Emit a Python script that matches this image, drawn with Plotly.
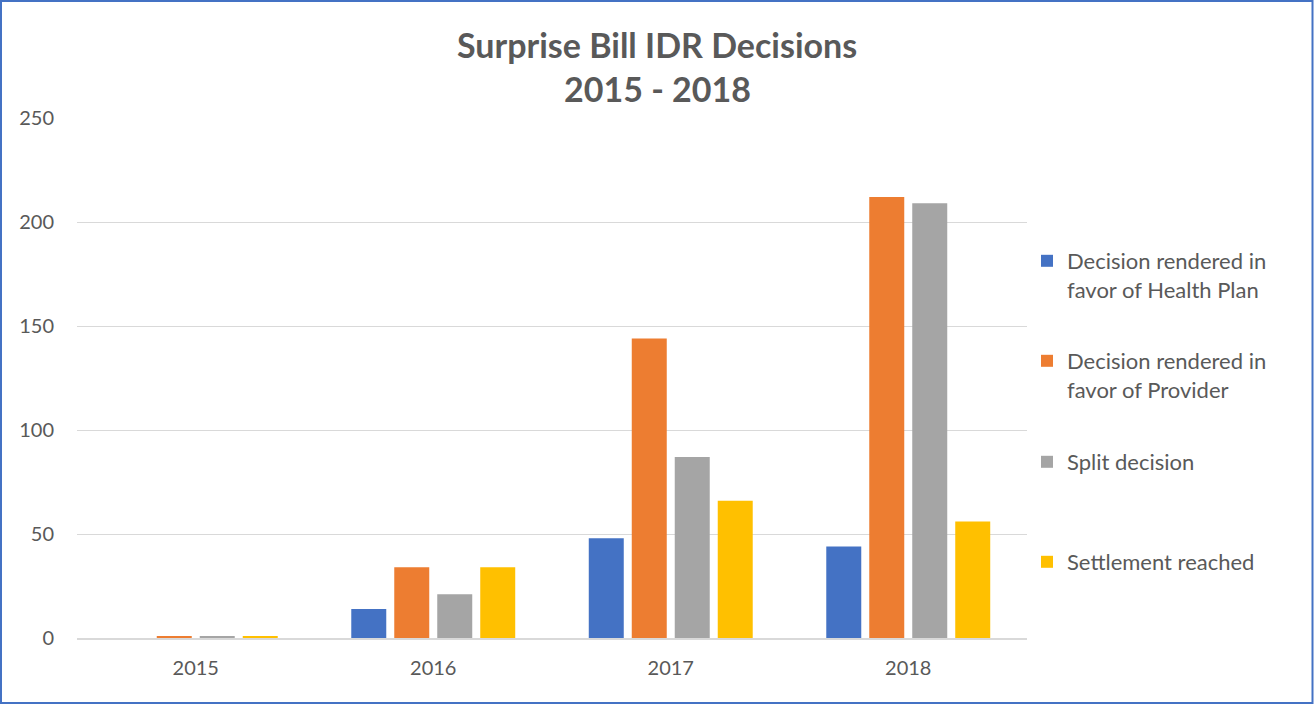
import plotly.graph_objects as go

years = ["2015", "2016", "2017", "2018"]
series_names = [
    "Decision rendered in<br>favor of Health Plan",
    "Decision rendered in<br>favor of Provider",
    "Split decision",
    "Settlement reached",
]
health_plan = [0, 14, 48, 44]
provider = [1, 34, 144, 212]
split = [1, 21, 87, 209]
settlement = [1, 34, 66, 56]
colors = ["#4472C4", "#ED7D31", "#A5A5A5", "#FFC000"]
y_ticks = [0, 50, 100, 150, 200, 250]

W, H = 1314, 704
L, R, T, B = 77, 1027, 118, 638

def px_x(p):
    return (p - L) / (R - L)

def px_y(p):
    return (B - p) / (B - T)

FONT = "Lato, 'Open Sans', sans-serif"
TXT = "#595959"

fig = go.Figure()
values = [health_plan, provider, split, settlement]
legend_ids = ["legend", "legend2", "legend3", "legend4"]
for name, vals, col, lg in zip(series_names, values, colors, legend_ids):
    fig.add_trace(go.Bar(x=years, y=vals, name=name, marker=dict(color=col, line=dict(width=0)),
                         legend=lg))

legend_tops = [240, 340, 441, 541]
layout_legends = {}
for lg, top in zip(legend_ids, legend_tops):
    layout_legends[lg] = dict(
        x=px_x(1027), xanchor="left", y=px_y(top), yanchor="top",
        font=dict(family=FONT, size=22, color=TXT), bgcolor="rgba(0,0,0,0)",
        valign="top", itemclick=False, tracegroupgap=0,
    )

fig.update_layout(
    width=W, height=H,
    margin=dict(l=L, r=W - R, t=T, b=H - B, pad=0),
    paper_bgcolor="white", plot_bgcolor="white",
    barmode="group", bargap=0.276, bargroupgap=0.186,
    showlegend=True,
    font=dict(family=FONT, color=TXT),
    **layout_legends,
)
fig.update_xaxes(
    type="category", showgrid=False, showline=True, linecolor="#D9D9D9", linewidth=1.5,
    ticks="", tickfont=dict(family=FONT, size=20, color=TXT), ticklabelstandoff=11,
    zeroline=False,
)
fig.update_yaxes(
    range=[0, 250], tickvals=y_ticks, showgrid=True, gridcolor="#D9D9D9", gridwidth=1.3,
    zeroline=False, showline=False, ticks="",
    tickfont=dict(family=FONT, size=20, color=TXT), ticklabelstandoff=22,
)

fig.add_annotation(text="<b>Surprise Bill IDR Decisions</b>", x=px_x(657), y=px_y(44),
                   xref="paper", yref="paper", showarrow=False, xanchor="center", yanchor="middle",
                   font=dict(family=FONT, size=34, color=TXT))
fig.add_annotation(text="<b>2015 - 2018</b>", x=px_x(657), y=px_y(89),
                   xref="paper", yref="paper", showarrow=False, xanchor="center", yanchor="middle",
                   font=dict(family=FONT, size=34, color=TXT))

# chart border
fig.add_shape(type="rect", xref="paper", yref="paper",
              x0=px_x(1), x1=px_x(1312.5), y0=px_y(703), y1=px_y(1),
              line=dict(color="#4472C4", width=2), fillcolor="rgba(0,0,0,0)", layer="above")

fig.write_html("out.html", config={"displayModeBar": False},
               post_script="document.body.style.margin='0px';")
